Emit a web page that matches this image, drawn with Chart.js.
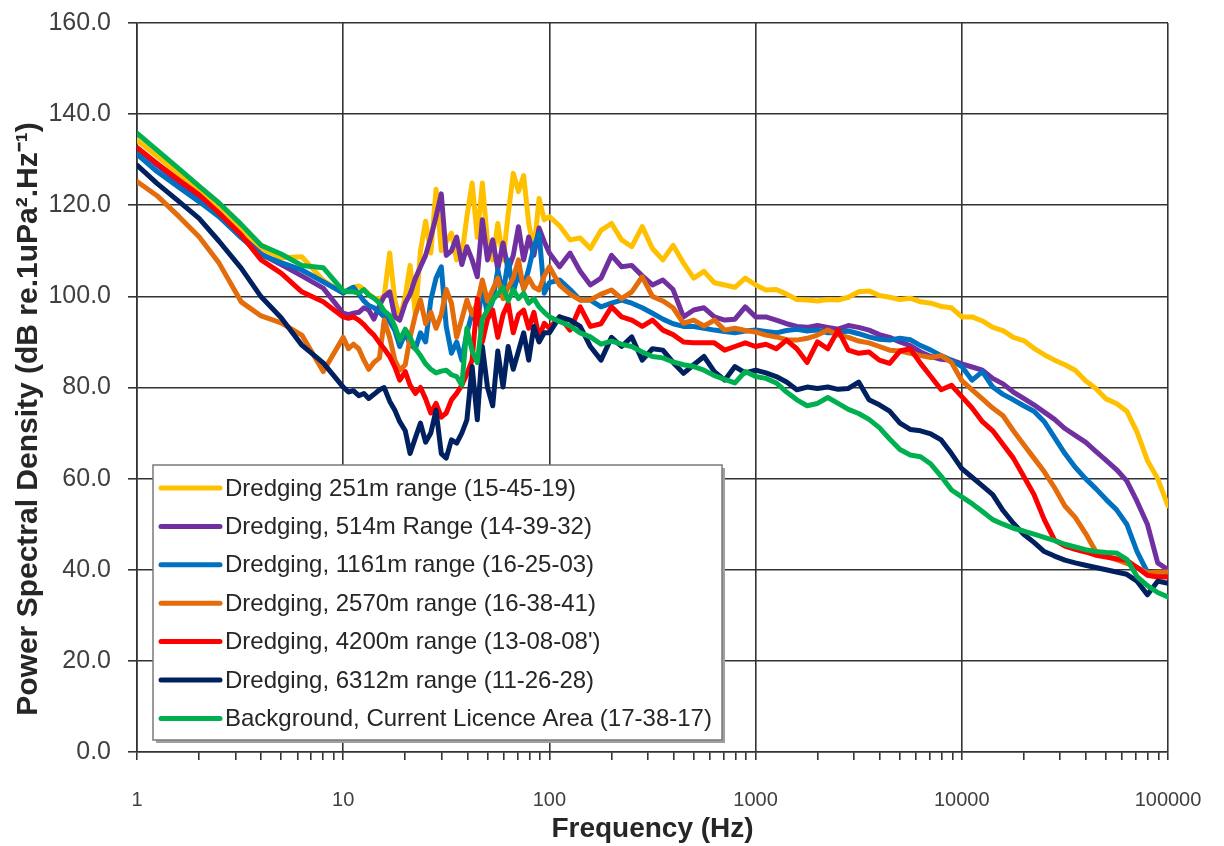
<!DOCTYPE html>
<html>
<head>
<meta charset="utf-8">
<title>Power Spectral Density</title>
<script src="https://cdn.jsdelivr.net/npm/chart.js@4.4.1/dist/chart.umd.min.js"></script>
<style>
  html, body { margin: 0; padding: 0; background: #fff; }
  #wrap { width: 1224px; height: 846px; }
</style>
</head>
<body>
<div id="wrap"><canvas id="psdChart" width="1224" height="846"></canvas></div>
<script>
// Frequenze (Hz) - spaziatura logaritmica
const freqs = [
    1, 1.25, 1.6, 2, 2.5, 3.2, 4, 5, 6.3, 8,
    10, 10.6, 11.2, 11.9, 12.6, 13.3, 14.1, 15, 15.8, 16.8, 17.8, 18.8, 20, 21.1, 22.4, 23.7, 25.1, 26.6, 28.2, 29.9,
    31.6, 33.5, 35.5, 37.6, 39.8, 42.2, 44.7, 47.3, 50.1, 53.1, 56.2, 59.6, 63.1, 66.8, 70.8, 75, 79.4, 84.1, 89.1, 94.4,
    100, 112, 126, 141, 158, 178, 200, 224, 251, 282, 316, 355, 398, 447, 501, 562, 631, 708, 794, 891,
    1000, 1122, 1259, 1413, 1585, 1778, 1995, 2239, 2512, 2818, 3162, 3548, 3981, 4467, 5012, 5623, 6310, 7079, 7943, 8913,
    10000, 11220, 12589, 14125, 15849, 17783, 19953, 22387, 25119, 28184, 31623, 35481, 39811, 44668, 50119, 56234,
    63096, 70795, 79433, 89125, 100000
];

// PSD (dB re 1uPa^2/Hz) per ciascuna registrazione
const range251 = [
    134.3, 130.8, 126.8, 123, 119, 114.5, 110.5, 108.5, 108.7, 103.5,
    100.7, 101.5, 102, 102.3, 101.5, 100.5, 99.6, 99.5, 100, 109.5, 99.2, 95, 100, 106.8, 96, 110, 116.5, 109.5, 123.5, 110,
    112, 113.9, 108, 109, 117.5, 124.9, 113, 124.9, 112, 108, 116, 108, 118, 127, 123, 126.5, 116, 110, 121.5, 116.8,
    117.5, 115.5, 112.4, 112.8, 110.5, 114.5, 116, 112.4, 110.9, 115.3, 110.5, 108, 111.2, 107.3, 104, 105.5, 103, 102.5, 102, 104,
    102.5, 101.4, 101.5, 100.5, 99.3, 99.2, 99, 99.3, 99.2, 99.8, 101, 101.2, 100.2, 99.8, 99.3, 99.6, 98.8, 98.5, 97.8, 97.5,
    95.5, 95.5, 94.6, 93.2, 92.5, 91, 90.3, 88.6, 87.2, 86, 85, 83.8, 81.5, 79.8, 77.5, 76.5, 74.8, 70.2, 64, 60, 54
];
const range514 = [
    132.5, 128.8, 125, 121.5, 117.8, 113.2, 109.3, 107, 104.5, 101.8,
    96.3, 96, 96.3, 96.5, 97.5, 97, 95, 98, 100, 101, 95.5, 94.8, 98.5, 100.5, 104, 106.5, 109, 113, 117.5, 122.5,
    109, 110, 113, 107, 110.9, 108, 104.3, 116.8, 108, 112.4, 106, 111.7, 105.8, 109, 115.3, 108, 113, 109, 115, 112,
    109.5, 106.5, 109.5, 105.5, 102.5, 104, 109, 106.5, 106.8, 104.5, 102.5, 103.6, 101.5, 95.5, 97, 97.5, 95.5, 94.8, 95, 97.7,
    95.5, 95.5, 94.8, 94, 93.4, 93.2, 93.6, 93.2, 92.8, 93.6, 93.2, 92.6, 91.6, 91, 90, 89.2, 87.8, 86.8, 86.2, 86,
    85.2, 84.5, 83.8, 82, 80.8, 79, 77.6, 76.2, 74.6, 73, 71, 69.5, 68, 66, 64, 62, 59.5, 55, 50, 41.5, 40
];
const range1161 = [
    131.2, 127.4, 123.9, 120.8, 117.5, 112.9, 109.1, 107.4, 105.8, 103.2,
    100.7, 101.4, 102, 100.5, 99, 98, 97.5, 96.5, 95.5, 94.5, 92.5, 89, 92, 89.5, 88.5, 92, 90, 99.2, 104, 106.5,
    93.4, 87.5, 90, 86, 92, 96.3, 94, 102, 96, 99, 105.8, 100.5, 108, 101, 105, 102, 106, 110.9, 113.9, 100.7,
    103, 103.6, 101.5, 99.2, 99.2, 97.7, 98.5, 99.2, 98.5, 97.5, 96.3, 95, 94, 93.4, 93.4, 93, 92.6, 92.3, 92, 92.4,
    92.6, 92.3, 92, 92.5, 92.8, 92.4, 92.6, 92, 92, 92.4, 91.8, 91.1, 90.6, 90.4, 90.8, 90.5, 89.2, 88.2, 87, 86,
    84.6, 81.6, 83.5, 80.1, 78.5, 77.3, 76, 74.8, 72.5, 69, 65.5, 62.5, 60, 57.8, 55.4, 53.2, 50, 44, 39.5, 38.5, 39.3
];
const range2570 = [
    125.2, 122.1, 117.5, 113.1, 107.3, 98.8, 95.7, 94.2, 91.5, 83.5,
    91, 88.5, 89.5, 88.5, 86, 84, 85.5, 86.5, 94.8, 91, 86, 83.8, 85, 91, 96, 99.2, 94, 96.5, 93, 96,
    101.5, 98.5, 91, 95, 99.2, 96, 98.5, 103.6, 99, 101.5, 104, 99.5, 102, 104, 108, 101.5, 104, 102, 101.4, 104.5,
    106.5, 102.5, 100.5, 99.2, 99.2, 100.5, 101.4, 99.5, 101, 104.3, 100, 99, 97.5, 94.1, 94.8, 93.5, 94.8, 92.6, 93, 92.5,
    92.2, 91.5, 91.1, 90.5, 90.4, 90.8, 91.5, 92.6, 91.5, 91, 90.2, 89.8, 89, 88.2, 88, 87.5, 87, 86.6, 87, 85.5,
    81.5, 79.5, 77.5, 75.5, 73.8, 70.5, 67.5, 64.5, 61.5, 58, 54, 51.5, 48, 44, 43, 42.2, 41.4, 40.5, 39.3, 39.5, 39.5
];
const range4200 = [
    132.7, 129.2, 125.5, 122.3, 118.3, 113.5, 108, 105.1, 101, 98.8,
    95.5, 95.2, 95.5, 94.8, 93.8, 92.6, 91.5, 89.8, 88.5, 86.8, 84.5, 81.6, 83.5, 80.5, 78.7, 80, 77.5, 74.4, 76.5, 73.5,
    74.4, 77.3, 78.7, 80.5, 83, 86, 99.5, 90, 95, 97, 91, 96, 98.5, 92, 96, 97, 93, 96.5, 91, 94.1,
    93, 95.5, 92.6, 97.7, 93.4, 94, 97.7, 95.5, 94.8, 93.4, 94.8, 92.6, 91.6, 90, 89.8, 89.8, 89.8, 88.2, 89, 89.8,
    89, 89.5, 88.5, 90.4, 88.5, 85.5, 90, 88.5, 92.6, 88.2, 87.5, 87.8, 86, 85.3, 88, 88.5, 85.3, 82.4, 79.5, 80.5,
    78, 75.5, 72.5, 70.5, 67.5, 64.5, 60.5, 56.5, 51, 46.5, 45.2, 44.5, 43.9, 43.2, 42.8, 42.4, 42.1, 40.5, 38.8, 38.4, 38.4
];
const range6312 = [
    128.8, 124.8, 120.8, 117.1, 112.1, 106.2, 99.9, 95.3, 89.3, 85.4,
    80.1, 79, 79.3, 78.2, 78.7, 77.6, 78.5, 79.5, 80, 77, 75, 72.5, 70.5, 65.5, 69, 72.2, 68, 70, 75, 65.5,
    64.5, 68.5, 67.8, 70, 72.9, 84.6, 72.9, 89, 80, 76, 88, 80.1, 89, 84, 88, 92, 86, 93.4, 90, 92,
    92, 95.5, 94.8, 93.4, 89, 86, 91, 89, 91.1, 86, 88.5, 88.2, 85.5, 83.1, 85, 86.8, 83.5, 81.6, 84.6, 83.2,
    83.8, 83.2, 82.4, 81.2, 79.5, 80.1, 79.8, 80.1, 79.6, 79.8, 81.2, 77.3, 76.2, 74.8, 72.2, 70.8, 70.5, 69.8, 68.5, 65.5,
    62.2, 60.3, 58.4, 56.5, 53, 50.2, 47.8, 46, 44, 43, 42.1, 41.5, 41, 40.5, 40, 39.5, 39, 37.5, 34.5, 37.5, 37
];
const background = [
    135.8, 132.1, 128, 124.2, 120.5, 115.8, 111.2, 109.3, 106.8, 106.3,
    101.2, 101, 101, 100.7, 101.5, 100.3, 99.6, 98.5, 96.8, 95.8, 93.5, 90.4, 92.8, 91, 88.5, 87, 85.2, 84, 83.2, 83.6,
    83.8, 82.8, 82.4, 80.5, 93, 88, 85.5, 95, 97, 99.2, 100.5, 102, 99, 101.5, 99.5, 100.7, 98.5, 99.5, 97.7, 96.5,
    95.5, 94.5, 93.5, 92, 91.1, 89.5, 90.2, 89.5, 89, 87.8, 86.8, 86.5, 85.6, 85, 84.6, 83.8, 82.6, 81.8, 81, 83.5,
    82.4, 82, 81, 79, 77.3, 76, 76.5, 77.8, 76.5, 75.2, 74.3, 73, 71.2, 68.7, 66.4, 65.2, 64.8, 63.2, 60.5, 57.5,
    56, 54.5, 52.8, 51, 50, 49.1, 48.5, 47.8, 47.1, 46.4, 45.6, 45, 44.4, 44, 43.8, 43.7, 42.3, 38.5, 36.5, 35, 34
];

const seriesLabels = [
    'Dredging 251m range (15-45-19)',
    'Dredging, 514m Range (14-39-32)',
    'Dredging, 1161m range (16-25-03)',
    'Dredging, 2570m range (16-38-41)',
    'Dredging, 4200m range (13-08-08\')',
    'Dredging, 6312m range (11-26-28)',
    'Background, Current Licence Area (17-38-17)'
];
const seriesValues = [range251, range514, range1161, range2570, range4200, range6312, background];
const seriesColors = ['#FFC000', '#7030A0', '#0070C0', '#E46C0A', '#FF0000', '#002060', '#00B050'];

const yAxisTitle = 'Power Spectral Density (dB re.1uPa\u00B2.Hz\u207B\u00B9)';

// Tacche asse x: decadi + tacche minori 2..9
const decades = [1, 10, 100, 1000, 10000, 100000];
const xTickValues = [];
decades.slice(0, -1).forEach(d => {
    for (let m = 1; m < 10; m++) xTickValues.push(d * m);
});
xTickValues.push(100000);

const gridColor = '#333333';
const fontFamily = "'Liberation Sans', Arial, sans-serif";

function isDecade(v) {
    return decades.includes(v);
}

// Titolo asse y, ruotato, un po' sotto il centro dell'area
const yTitlePlugin = {
    id: 'yTitle',
    afterDraw(chart) {
        const ctx = chart.ctx;
        ctx.save();
        ctx.translate(29, 419);
        ctx.rotate(-Math.PI / 2);
        ctx.font = 'bold 30px ' + fontFamily;
        ctx.fillStyle = '#262626';
        ctx.textAlign = 'center';
        ctx.textBaseline = 'middle';
        ctx.fillText(yAxisTitle, 0, 0);
        ctx.restore();
    }
};

// Legenda disegnata dentro l'area del grafico
const insideLegend = {
    id: 'insideLegend',
    afterDraw(chart) {
        const ctx = chart.ctx;
        const area = chart.chartArea;
        const x = area.left + 16, y = 465, w = 569, h = 275;
        ctx.save();
        ctx.fillStyle = '#a0a0a0';
        ctx.fillRect(x + 3, y + 3, w, h);
        ctx.fillStyle = '#fff';
        ctx.fillRect(x, y, w, h);
        ctx.strokeStyle = '#7a7a7a';
        ctx.lineWidth = 1.5;
        ctx.strokeRect(x, y, w, h);
        ctx.font = '24px ' + fontFamily;
        ctx.textBaseline = 'middle';
        chart.data.datasets.forEach((ds, i) => {
            const rowY = y + 23 + i * 38.4;
            ctx.strokeStyle = ds.borderColor;
            ctx.lineWidth = 5;
            ctx.lineCap = 'round';
            ctx.beginPath();
            ctx.moveTo(x + 8, rowY);
            ctx.lineTo(x + 67, rowY);
            ctx.stroke();
            ctx.fillStyle = '#262626';
            ctx.fillText(ds.label, x + 72, rowY + 1);
        });
        ctx.restore();
    }
};

const datasets = seriesValues.map((vals, i) => ({
    label: seriesLabels[i],
    data: freqs.map((f, k) => ({ x: f, y: vals[k] })),
    borderColor: seriesColors[i],
    backgroundColor: seriesColors[i],
    borderWidth: 5,
    pointRadius: 0,
    tension: 0,
    borderJoinStyle: 'round',
    borderCapStyle: 'round',
    order: seriesValues.length - i
}));

const psdChart = new Chart(document.getElementById('psdChart').getContext('2d'), {
    type: 'line',
    data: { datasets: datasets },
    plugins: [insideLegend, yTitlePlugin],
    options: {
        responsive: false,
        animation: false,
        layout: { padding: { top: 23, right: 56, left: 0, bottom: 0 } },
        plugins: {
            legend: { display: false },
            tooltip: { enabled: false }
        },
        scales: {
            x: {
                type: 'logarithmic',
                min: 1,
                max: 100000,
                afterBuildTicks: scale => {
                    scale.ticks = xTickValues.map(v => ({ value: v }));
                },
                afterFit: scale => {
                    scale.height = 94;
                    scale.paddingLeft = 0;
                    scale.paddingRight = 0;
                },
                grid: {
                    color: c => (c.tick && isDecade(c.tick.value)) ? gridColor : 'rgba(0,0,0,0)',
                    tickColor: gridColor,
                    lineWidth: 1.6,
                    tickLength: 8
                },
                border: { color: gridColor, width: 1.6 },
                ticks: {
                    autoSkip: false,
                    maxRotation: 0,
                    padding: 28,
                    color: '#404040',
                    font: { family: fontFamily, size: 20 },
                    callback: v => isDecade(v) ? String(v) : ''
                },
                title: {
                    display: true,
                    text: 'Frequency (Hz)',
                    color: '#262626',
                    font: { family: fontFamily, size: 28, weight: 'bold' },
                    padding: { top: 0, bottom: 0 }
                }
            },
            y: {
                min: 0,
                max: 160,
                afterFit: scale => {
                    scale.width = 137;
                    scale.paddingTop = 0;
                    scale.paddingBottom = 0;
                },
                grid: {
                    color: gridColor,
                    lineWidth: 1.6,
                    tickLength: 9
                },
                border: { color: gridColor, width: 1.6 },
                ticks: {
                    stepSize: 20,
                    padding: 17,
                    color: '#404040',
                    font: { family: fontFamily, size: 25 },
                    callback: v => v.toFixed(1)
                }
            }
        }
    }
});
</script>
</body>
</html>
